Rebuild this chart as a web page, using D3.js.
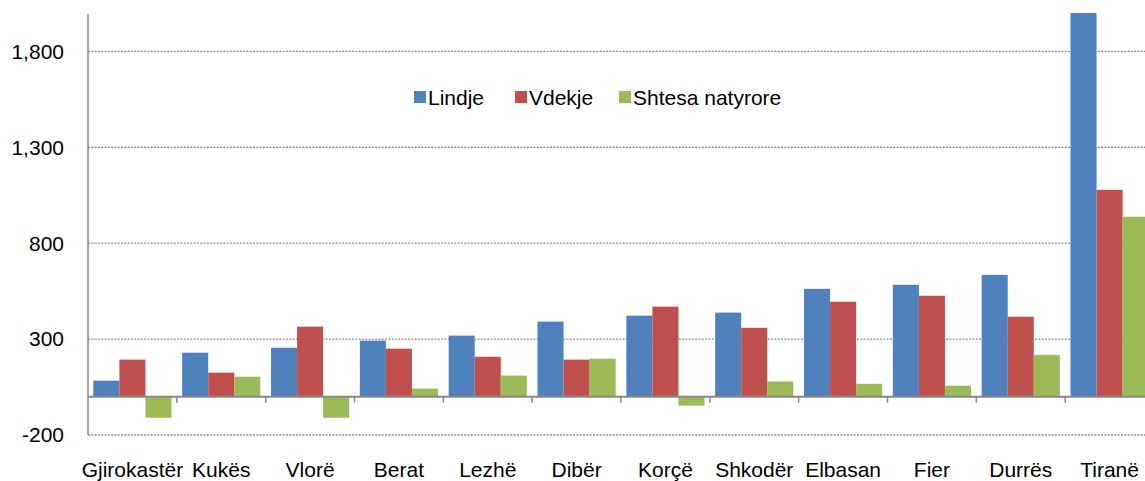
<!DOCTYPE html>
<html>
<head>
<meta charset="utf-8">
<script src="https://cdn.jsdelivr.net/npm/d3@7"></script>
<style>
  body { margin: 0; background: #fff; }
  svg { display: block; overflow: hidden; }
  text { font-family: "Liberation Sans", Arial, sans-serif; fill: #000; }
</style>
</head>
<body>
<svg id="chart" width="1145" height="481"></svg>
<script>
// regions, sorted by births
const categories = ['Gjirokastër', 'Kukës', 'Vlorë', 'Berat', 'Lezhë', 'Dibër', 'Korçë', 'Shkodër', 'Elbasan', 'Fier', 'Durrës', 'Tiranë']
const lindje = [83, 229, 255, 292, 318, 391, 422, 438, 562, 583, 635, 2016]
const vdekje = [193, 125, 365, 250, 208, 193, 469, 359, 495, 526, 417, 1078]
const shtesa = [-110, 104, -110, 42, 110, 198, -47, 79, 67, 57, 218, 938]
const seriesNames = ['Lindje', 'Vdekje', 'Shtesa natyrore']
const colors = ['#4F81BD', '#C0504D', '#9BBB59']
const yTicks = [-200, 300, 800, 1300, 1800]

const margin = { top: 13, left: 88 }
const plotW = 1066, plotH = 422
const svg = d3.select('#chart')
const g = svg.append('g').attr('transform', 'translate(' + margin.left + ',' + margin.top + ')')

const x = d3.scaleBand().domain(categories).range([0, plotW])
const x1 = d3.scaleBand().domain(seriesNames).range([x.bandwidth() * 0.06, x.bandwidth() * 0.94])
const y = d3.scaleLinear().domain([-200, 2000]).range([plotH, 0])
// excel style: plain hyphen for negatives
const fmt = v => d3.format(',')(v).replace('\u2212', '-')

// dotted grid
g.append('g').selectAll('line').data(yTicks).enter().append('line')
    .attr('x1', 0).attr('x2', plotW)
    .attr('y1', d => y(d)).attr('y2', d => y(d))
    .attr('stroke', '#8c8c8c').attr('stroke-width', 1.3).attr('stroke-dasharray', '2,1.3')

// y labels
g.append('g').selectAll('text').data(yTicks).enter().append('text')
    .attr('x', -24).attr('y', d => y(d)).attr('dy', '0.35em')
    .attr('text-anchor', 'end').style('font-size', '21px')
    .text(fmt)

g.append('clipPath').attr('id', 'clip').append('rect')
    .attr('x', 0).attr('y', 0).attr('width', plotW).attr('height', plotH)

const data = [lindje, vdekje, shtesa]
const groups = g.append('g').attr('clip-path', 'url(#clip)').selectAll('g')
    .data(categories).enter().append('g')
    .attr('transform', d => 'translate(' + x(d) + ',0)')
groups.selectAll('rect')
    .data((c, i) => seriesNames.map((s, k) => ({ s: s, k: k, v: data[k][i] })))
    .enter().append('rect')
    .attr('x', d => x1(d.s))
    .attr('width', x1.bandwidth())
    .attr('y', d => y(Math.max(0, d.v)))
    .attr('height', d => Math.abs(y(d.v) - y(0)))
    .attr('fill', d => colors[d.k])

// zero line + category ticks
g.append('line').attr('x1', 0).attr('x2', plotW).attr('y1', y(0)).attr('y2', y(0))
    .attr('stroke', '#878787').attr('stroke-width', 2)
g.append('g').selectAll('line').data(categories.slice(1)).enter().append('line')
    .attr('x1', d => x(d)).attr('x2', d => x(d))
    .attr('y1', y(0)).attr('y2', y(0) + 6)
    .attr('stroke', '#878787').attr('stroke-width', 1.5)

// y axis line
g.append('line').attr('x1', 0).attr('x2', 0).attr('y1', 1).attr('y2', plotH)
    .attr('stroke', '#878787').attr('stroke-width', 1.5)

// category labels
g.append('g').selectAll('text').data(categories).enter().append('text')
    .attr('x', d => x(d) + x.bandwidth() / 2).attr('y', 464)
    .attr('text-anchor', 'middle').style('font-size', '21px')
    .text(d => d)

// legend
const legendX = [414, 515, 619]
const lg = svg.append('g')
seriesNames.forEach((s, k) => {
  lg.append('rect').attr('x', legendX[k]).attr('y', 91).attr('width', 12).attr('height', 12)
      .attr('fill', colors[k])
  lg.append('text').attr('x', legendX[k] + 14).attr('y', 105)
      .style('font-size', '21px').text(s)
})
</script>
</body>
</html>
